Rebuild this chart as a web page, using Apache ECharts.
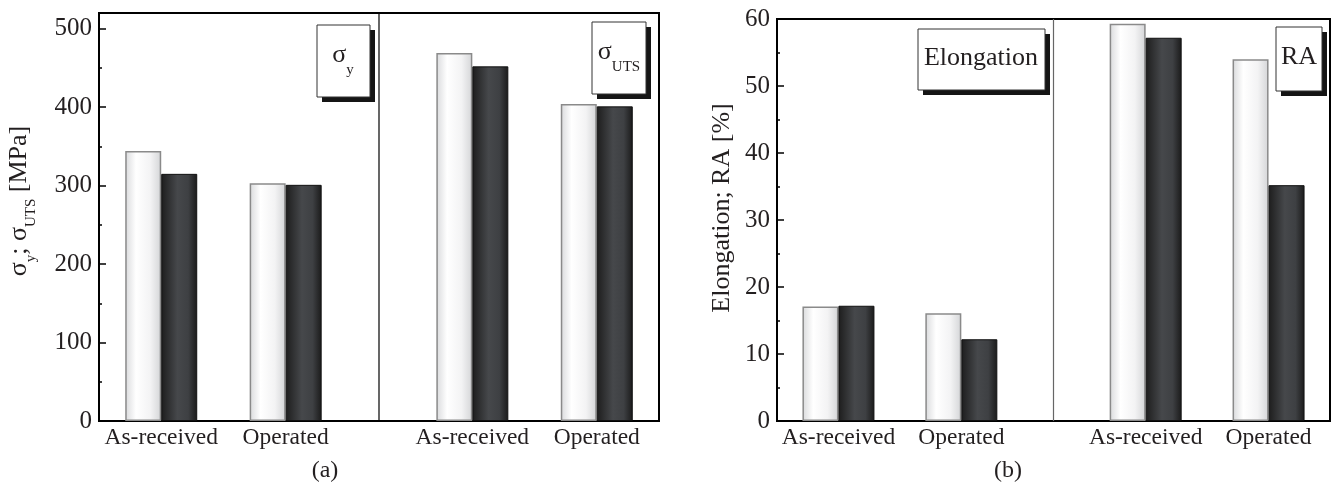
<!DOCTYPE html>
<html><head><meta charset="utf-8">
<script src="https://cdn.jsdelivr.net/npm/echarts@6/dist/echarts.min.js"></script>
<style>html,body{margin:0;padding:0;background:#fff}#c{width:1333px;height:486px}</style>
</head><body><div id="c"></div>
<script>
// ---- data ----
const categories = ['As-received', 'Operated', 'As-received', 'Operated'];
const groupPositions = [1, 2, 3.5, 4.5];
const strengthWhite = [344, 303, 469, 404];
const strengthDark = [315, 301, 452, 401];
const ductilityWhite = [17.1, 16.1, 59.3, 54.0];
const ductilityDark = [17.2, 12.2, 57.2, 35.2];
const dividerPosition = 2.75;

// ---- style ----
const FONT = 'Liberation Serif';
const TXT = '#231f20';
const whiteFill = new echarts.graphic.LinearGradient(0, 0, 1, 0, [
  {offset: 0, color: '#d9dadc'}, {offset: 0.3, color: '#ffffff'},
  {offset: 0.7, color: '#f3f3f4'}, {offset: 1, color: '#d4d5d7'}]);
const darkFill = new echarts.graphic.LinearGradient(0, 0, 1, 0, [
  {offset: 0, color: '#1d1d1d'}, {offset: 0.45, color: '#46484b'},
  {offset: 0.75, color: '#3e4043'}, {offset: 1, color: '#1a1a1a'}]);

const pair = arr => arr.map((v, i) => [groupPositions[i], v]);

function xAxisDef(gi) {
  return {
    type: 'value', gridIndex: gi, min: 0.5, max: 5, interval: 0.5,
    axisLine: {lineStyle: {color: '#000', width: 2}},
    axisTick: {show: false}, splitLine: {show: false},
    axisLabel: {
      fontFamily: FONT, fontSize: 23.5, color: TXT, margin: 5,
      showMinLabel: true, showMaxLabel: true,
      formatter: v => { const i = groupPositions.indexOf(v); return i >= 0 ? categories[i] : ''; }
    }
  };
}
function yAxisDef(gi, max, interval, name, gap, shiftPad) {
  return {
    type: 'value', gridIndex: gi, min: 0, max: max, interval: interval,
    axisLine: {show: true, lineStyle: {color: '#000', width: 2}},
    axisTick: {show: true, inside: true, length: 7, lineStyle: {color: '#000', width: 1.5}},
    minorTick: {show: true, inside: true, splitNumber: 2, length: 3, lineStyle: {color: '#000', width: 1.5}},
    splitLine: {show: false}, minorSplitLine: {show: false},
    axisLabel: {fontFamily: FONT, fontSize: 25, color: TXT, margin: 7,
      formatter: v => (v % interval === 0 ? String(v) : '')},
    name: name, nameLocation: 'middle', nameGap: gap,
    nameTextStyle: {fontFamily: FONT, fontSize: 26, color: TXT, padding: [0, 0, 0, shiftPad], rich: {
      n: {fontFamily: FONT, fontSize: 26, color: TXT, lineHeight: 28, verticalAlign: 'top'},
      s: {fontFamily: FONT, fontSize: 15, color: TXT, lineHeight: 33, verticalAlign: 'bottom'}
    }}
  };
}
function barSeries(gi, data, fill, border, bw) {
  return {
    type: 'bar', xAxisIndex: gi, yAxisIndex: gi, data: pair(data),
    barWidth: 36, barGap: '0%',
    itemStyle: {color: fill, borderColor: border, borderWidth: bw},
    emphasis: {disabled: true}, animation: false
  };
}
function dividerSeries(gi, top, color) {
  return {
    type: 'line', xAxisIndex: gi, yAxisIndex: gi, symbol: 'none', silent: true,
    data: [[dividerPosition, 0], [dividerPosition, top]],
    lineStyle: {color: color, width: 1.2}, emphasis: {disabled: true}, animation: false
  };
}

function labelBox(x, y, w, h, text, cx, cy) {
  return {
    type: 'group', children: [
      {type: 'rect', shape: {x: x + 5, y: y + 5, width: w, height: h}, style: {fill: '#151515'}},
      {type: 'rect', shape: {x: x, y: y, width: w, height: h}, style: {fill: '#fff', stroke: '#333', lineWidth: 1}},
      {type: 'text', x: cx, y: cy, style: {text: text, rich: {
        n: {fontFamily: FONT, fontSize: 26, fill: TXT, lineHeight: 28, verticalAlign: 'top'},
        s: {fontFamily: FONT, fontSize: 15, fill: TXT, lineHeight: 36, verticalAlign: 'bottom'}
      }, align: 'center', verticalAlign: 'middle'}}
    ]
  };
}

const chart = echarts.init(document.getElementById('c'), null, {renderer: 'canvas'});
chart.setOption({
  backgroundColor: '#fff',
  animation: false,
  grid: [
    {left: 99, width: 560, top: 13, bottom: 65, show: true, borderColor: '#000', borderWidth: 2, backgroundColor: 'transparent'},
    {left: 777, right: 1, top: 19, bottom: 65, show: true, borderColor: '#000', borderWidth: 2, backgroundColor: 'transparent'}
  ],
  xAxis: [xAxisDef(0), xAxisDef(1)],
  yAxis: [
    yAxisDef(0, 520, 100, '{n|σ}{s|y}{n|; σ}{s|UTS}{n| [MPa]}', 60, 32),
    yAxisDef(1, 60, 10, '{n|Elongation; RA [%]}', 40, 24)
  ],
  series: [
    dividerSeries(0, 520, '#000'),
    dividerSeries(1, 60, '#666'),
    barSeries(0, strengthWhite, whiteFill, '#8a8a8a', 1.5),
    barSeries(0, strengthDark, darkFill, '#111', 1),
    barSeries(1, ductilityWhite, whiteFill, '#8a8a8a', 1.5),
    barSeries(1, ductilityDark, darkFill, '#111', 1)
  ],
  graphic: [
    labelBox(317, 25, 53, 72, '{n|σ}{s|y}', 343, 60),
    labelBox(592, 22, 54, 72, '{n|σ}{s|UTS}', 619, 57),
    labelBox(918, 29, 127, 61, '{n|Elongation}', 981, 59),
    labelBox(1276, 27, 46, 64, '{n|RA}', 1299, 58),
    {type: 'text', x: 325, y: 471, style: {text: '(a)', fontFamily: FONT, fontSize: 24, fill: TXT, align: 'center', verticalAlign: 'middle'}},
    {type: 'text', x: 1008, y: 471, style: {text: '(b)', fontFamily: FONT, fontSize: 24, fill: TXT, align: 'center', verticalAlign: 'middle'}}
  ]
});
</script></body></html>
